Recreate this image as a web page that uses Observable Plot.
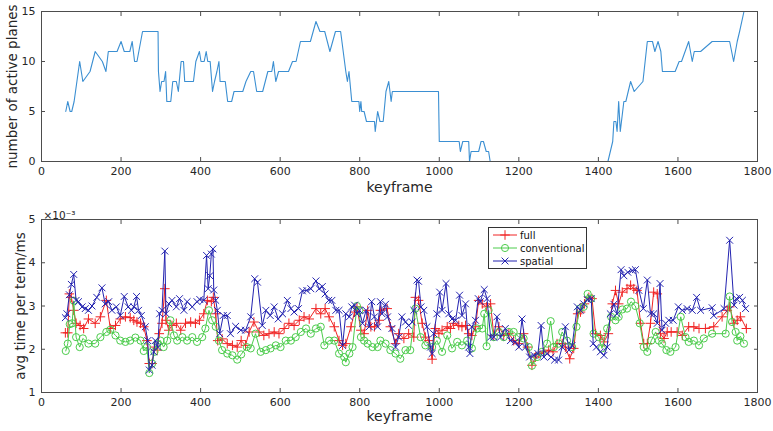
<!DOCTYPE html>
<html><head><meta charset="utf-8">
<script src="https://cdn.jsdelivr.net/npm/d3@7"></script>
<script src="https://cdn.jsdelivr.net/npm/@observablehq/plot@0.6"></script>
<style>
body{margin:0;background:#fff;}
#wrap{position:relative;width:773px;height:431px;font-family:"DejaVu Sans",sans-serif;background:#fff;}
#top,#bot{position:absolute;left:0;}
#top{top:0;} #bot{top:200px;}
#legend{position:absolute;left:488px;top:227px;width:97px;height:40px;border:1px solid #333;background:#fff;}
</style></head><body>
<div id="wrap"><div id="top"></div><div id="bot"></div><div id="legend"></div></div>
<script>
// ---- top panel: number of active planes ----
const planeKf = [61,66,72,76,82,96,104,122,135,153,162,168,190,200,208,222,228,234,240,254,293,294,298,302,308,312,315,325,330,339,344,351,357,360,382,388,397,401,409,414,418,424,430,435,441,446,449,462,468,478,484,506,514,526,533,541,556,569,579,583,589,596,621,631,640,651,676,690,700,712,725,739,752,765,769,773,780,798,800,803,805,811,817,837,839,845,851,859,866,873,879,882,998,1000,1050,1053,1059,1074,1076,1080,1099,1105,1111,1118,1124,1128,1424,1436,1439,1444,1447,1451,1455,1464,1469,1481,1490,1512,1523,1536,1542,1550,1557,1561,1593,1603,1609,1627,1636,1641,1657,1686,1730,1740,1749,1755,1766];
const planeVal = [5,6,5,5,6,10,8,9,11,10,9,11,11,12,11,11,12,10,10,13,13,9,7,8,8,9,6,6,8,8,7,10,10,8,8,10,11,10,10,11,10,10,7,8,9,10,8,8,6,6,7,7,8,9,9,7,7,9,9,10,8,9,9,10,10,12,12,14,13,13,11,13,13,9,8,9,6,6,5,6,5,5,4,4,3,5,4,4,7,8,6,7,7,2,2,1,2,2,0,1,1,2,2,1,1,0,0,2,4,4,3,6,3,6,6,8,7,8,12,12,11,12,11,9,9,10,10,12,10,11,11,12,12,10,12,13,15];
const xTicks = [0,200,400,600,800,1000,1200,1400,1600,1800];
const planeTicks = [0,5,10,15];

// ---- bottom panel: avg time per term (x 10^-3 ms) ----
const seriesNames = ["full","conventional","spatial"];
const seriesColors = ["#f02424","#4ccc4c","#2323b0"];
const seriesSymbols = ["plus","circle","times"];

const fullKf = [60,66,70,75,81,87,97,106,118,135,148,163,173,186,198,211,223,232,240,249,257,265,271,278,284,291,296,303,310,313,320,328,339,350,362,375,387,397,408,417,427,432,438,443,454,467,480,492,502,513,522,534,547,559,572,585,597,610,622,635,648,660,673,690,702,713,723,736,748,757,765,778,787,793,803,811,820,828,837,849,852,869,877,890,898,911,923,936,940,948,957,965,974,982,990,999,1007,1020,1028,1036,1049,1057,1066,1074,1082,1091,1099,1108,1119,1129,1137,1150,1162,1175,1187,1200,1212,1222,1233,1242,1250,1263,1275,1286,1296,1309,1317,1328,1338,1348,1355,1365,1376,1384,1393,1405,1414,1425,1435,1443,1451,1460,1472,1481,1489,1497,1506,1514,1523,1531,1539,1548,1556,1565,1573,1583,1598,1611,1627,1640,1653,1669,1690,1711,1724,1730,1741,1749,1757,1772];
const fullVal = [2.38,2.38,3.28,3.2,2.9,2.6,2.55,2.48,2.7,2.6,2.75,3.13,2.48,2.55,2.7,2.75,2.73,2.67,2.63,2.6,2.52,2.2,1.67,1.67,2.05,1.98,2.36,2.6,3.4,2.67,2.44,2.55,2.6,2.44,2.6,2.63,2.6,2.67,2.82,3.13,3.1,3.2,2.82,2.2,2.24,2.13,2.09,2.05,2.2,2.09,2.4,2.63,2.4,2.32,2.36,2.4,2.36,2.48,2.6,2.55,2.67,2.75,2.7,2.94,2.82,2.94,2.75,2.52,2.2,2.09,2.13,2.52,2.86,2.98,2.44,2.36,2.9,2.52,2.52,2.67,2.9,2.94,2.52,2.13,2.36,2.25,2.36,2.28,3.2,3.13,2.6,2.28,2.2,1.77,2.48,2.36,2.44,2.52,2.48,2.6,2.55,2.52,2.55,2.36,2.32,2.52,3.13,3.05,2.98,3.05,2.32,2.52,2.32,2.36,2.2,2.13,2.36,2.05,1.63,1.82,1.9,1.94,1.98,1.94,2.13,2.13,2.05,1.78,2.02,2.82,2.86,3.05,3.2,3.17,2.36,2.32,2.17,2.36,3.05,3.36,3.05,3.32,3.4,3.48,3.4,3.36,2.6,2.13,2.13,2.6,3.32,3.28,2.36,2.25,2.4,2.4,2.4,2.32,2.52,2.52,2.48,2.48,2.52,2.75,2.9,2.98,2.6,2.67,2.75,2.48];

const convKf = [61,66,71,77,81,87,96,104,118,135,148,163,173,186,198,211,223,236,249,257,265,271,278,284,291,299,307,316,324,333,341,354,366,379,391,404,412,421,429,438,446,454,467,480,492,502,516,526,538,551,564,576,589,601,614,627,639,652,665,677,690,702,711,723,736,748,761,765,774,782,793,799,803,811,820,832,845,852,865,877,890,902,915,927,940,953,965,982,994,1007,1020,1032,1045,1057,1070,1082,1095,1108,1113,1119,1124,1137,1150,1162,1175,1187,1200,1212,1225,1233,1246,1258,1271,1280,1288,1300,1309,1321,1334,1345,1353,1363,1373,1382,1388,1401,1409,1422,1432,1443,1451,1460,1472,1482,1493,1504,1514,1523,1533,1544,1552,1560,1571,1581,1594,1607,1619,1627,1640,1653,1665,1686,1720,1730,1736,1745,1749,1757,1766];
const convVal = [1.96,2.13,2.58,2.6,3.12,2.28,2.05,2.25,2.13,2.13,2.28,2.4,2.45,2.32,2.2,2.17,2.2,2.27,2.2,1.96,2.05,1.45,1.67,1.94,2.13,2.2,2.05,2.2,2.67,2.32,2.2,2.28,2.2,2.28,2.17,2.28,2.48,2.9,2.67,2.52,2.2,1.98,1.9,1.86,1.76,1.88,2.05,2.02,2.36,1.94,1.98,2.02,2.09,2.05,2.2,2.2,2.28,2.4,2.48,2.36,2.48,2.52,2.09,2.2,2.2,1.9,1.82,1.7,1.9,2.05,3.0,2.9,2.28,2.2,2.13,2.05,2.05,2.2,2.13,1.98,1.9,1.78,1.98,1.98,2.94,2.28,2.09,2.05,2.2,1.94,2.32,2.02,2.17,2.09,2.2,2.02,2.48,2.48,2.82,2.07,2.9,2.28,2.4,2.28,2.4,2.4,2.28,2.25,2.05,1.62,1.82,1.94,2.13,2.65,2.05,2.13,2.4,2.2,2.05,2.52,2.94,2.98,3.28,3.17,2.36,2.28,2.02,2.48,2.75,2.67,2.75,2.92,2.94,3.1,3.0,2.6,2.05,1.94,2.2,2.4,2.2,2.13,1.98,1.94,2.05,2.75,2.28,2.17,2.2,2.09,2.25,2.36,2.36,3.22,2.63,2.4,2.2,2.3,2.13];

const spatKf = [60,64,70,75,81,87,93,102,110,118,127,139,152,160,169,177,188,198,208,218,226,232,239,244,251,261,267,271,278,282,286,292,297,303,310,313,320,328,339,347,358,366,379,391,398,408,415,419,423,427,431,433,438,442,448,457,467,475,488,501,513,526,536,543,555,564,575,585,595,606,618,627,635,646,656,667,677,690,698,706,713,722,730,740,748,757,765,774,780,787,793,799,807,816,824,830,837,845,852,856,865,870,881,890,898,906,915,923,932,936,944,948,954,961,969,978,982,986,994,1001,1007,1017,1024,1032,1041,1051,1057,1066,1074,1077,1082,1091,1098,1103,1113,1120,1129,1137,1145,1154,1166,1179,1191,1200,1208,1217,1227,1238,1248,1256,1263,1271,1281,1290,1300,1309,1317,1326,1334,1347,1355,1363,1372,1382,1387,1395,1405,1414,1422,1430,1439,1447,1457,1464,1474,1485,1493,1502,1513,1523,1531,1539,1548,1555,1560,1569,1577,1588,1601,1611,1623,1636,1647,1657,1686,1690,1716,1730,1741,1747,1755,1762,1770];
const spatVal = [2.73,2.82,3.26,3.5,3.73,3.13,3.1,2.98,2.94,2.9,3.0,3.2,3.42,3.05,3.1,2.9,2.98,2.78,3.22,2.98,2.9,2.98,3.22,2.9,2.78,2.52,2.2,1.52,1.63,1.94,2.2,2.05,2.82,2.9,4.27,2.82,3.05,3.13,2.98,3.17,2.9,3.1,2.98,3.1,3.15,3.13,4.17,3.4,3.7,4.2,4.32,3.37,3.13,2.9,2.36,2.78,2.78,2.36,2.53,2.44,2.44,2.75,3.63,3.55,2.55,2.9,2.78,2.98,2.7,2.82,3.13,2.94,2.86,2.94,3.35,3.36,3.4,3.58,3.4,3.45,3.28,3.13,3.13,2.9,2.9,2.09,2.82,2.75,2.98,3.02,2.82,2.9,2.6,2.9,2.52,3.1,2.75,2.52,3.1,2.82,3.04,2.75,2.48,2.05,2.28,2.75,2.63,2.55,2.63,2.9,3.6,3.57,2.98,2.9,2.52,2.05,1.9,2.36,2.82,3.32,2.9,3.52,2.82,2.7,2.67,3.25,2.78,3.05,2.05,1.9,2.52,2.67,3.17,3.1,3.38,3.17,2.28,2.28,2.75,2.28,2.48,2.2,2.17,2.05,2.7,2.05,1.82,1.86,1.9,2.55,1.82,1.9,1.82,1.75,1.75,2.05,2.52,1.98,2.09,2.98,2.9,3.05,3.15,3.17,2.13,2.05,1.94,1.86,2.05,2.82,3.04,2.82,3.84,3.7,3.78,3.82,3.84,3.36,2.94,3.6,2.82,2.82,2.6,3.52,2.44,2.6,2.67,2.67,2.98,2.9,2.94,2.9,3.2,2.9,2.96,2.78,2.94,4.52,3.02,3.17,3.2,3.13,2.94];
const timeTicks = [1,2,3,4,5];

const zip = (ks, vs, name) => ks.map((k, i) => ({k, v: vs[i], name}));
const planes = zip(planeKf, planeVal, "planes");
const series = [zip(fullKf, fullVal, "full"), zip(convKf, convVal, "conventional"), zip(spatKf, spatVal, "spatial")];

const font = {fontFamily: "DejaVu Sans, sans-serif", fontSize: "11px", color: "#262626", background: "white", overflow: "visible"};
const frameStroke = "#4d4d4d";
const plain = d3.format("d");

function boxAxes(yTicks) {
  return [
    Plot.frame({stroke: frameStroke, strokeWidth: 1}),
    Plot.axisX(xTicks, {anchor: "bottom", tickSize: -4, tickPadding: 10, tickFormat: plain, label: null, stroke: frameStroke}),
    Plot.axisX(xTicks, {anchor: "top", tickSize: -4, tickFormat: () => "", label: null, stroke: frameStroke}),
    Plot.axisY(yTicks, {anchor: "left", tickSize: -4, tickPadding: 10, tickFormat: plain, label: null, stroke: frameStroke}),
    Plot.axisY(yTicks, {anchor: "right", tickSize: -4, tickFormat: () => "", label: null, stroke: frameStroke})
  ];
}

const topChart = Plot.plot({
  width: 773, height: 200, marginLeft: 41, marginRight: 16, marginTop: 11, marginBottom: 39,
  style: font,
  x: {domain: [0, 1800]},
  y: {domain: [0, 15]},
  marks: [
    Plot.line(planes, {x: "k", y: "v", stroke: "#3b8fd2", strokeWidth: 1.1}),
    ...boxAxes(planeTicks),
    Plot.text(["keyframe"], {text: d => d, frameAnchor: "bottom", dy: 30, fontSize: 14, fill: "#262626"}),
    Plot.text(["number of active planes"], {text: d => d, frameAnchor: "left", textAnchor: "middle", dx: -29, rotate: -90, fontSize: 13.5, fill: "#262626"})
  ]
});
document.getElementById("top").appendChild(topChart);

const botChart = Plot.plot({
  width: 773, height: 231, marginLeft: 41, marginRight: 16, marginTop: 19, marginBottom: 39,
  style: font,
  x: {domain: [0, 1800]},
  y: {domain: [1, 5]},
  marks: [
    ...series.flatMap((s, i) => [
      Plot.line(s, {x: "k", y: "v", stroke: seriesColors[i], strokeWidth: 1}),
      Plot.dot(s, {x: "k", y: "v", stroke: seriesColors[i], symbol: () => seriesSymbols[i], r: i === 1 ? 3.6 : 3.2, strokeWidth: 1})
    ]),
    ...boxAxes(timeTicks),
    Plot.text(["keyframe"], {text: d => d, frameAnchor: "bottom", dy: 28, fontSize: 14, fill: "#262626"}),
    Plot.text(["avg time per term/ms"], {text: d => d, frameAnchor: "left", textAnchor: "middle", dx: -21, rotate: -90, fontSize: 13.5, fill: "#262626"}),
    Plot.text(["\u00d710\u207b\u00b3"], {text: d => d, frameAnchor: "top-left", textAnchor: "start", dx: 2, dy: -8, fontSize: 10.5, fill: "#262626"})
  ]
});
document.getElementById("bot").appendChild(botChart);

// legend
const lg = d3.select("#legend").append("svg").attr("width", 97).attr("height", 40)
  .style("font-family", "DejaVu Sans, sans-serif").style("font-size", "10px");
seriesNames.forEach((name, i) => {
  const y = 7 + i * 13;
  lg.append("line").attr("x1", 4).attr("x2", 28).attr("y1", y).attr("y2", y).attr("stroke", seriesColors[i]);
  const sym = {plus: d3.symbolPlus, circle: d3.symbolCircle, times: d3.symbolTimes}[seriesSymbols[i]];
  lg.append("path").attr("d", d3.symbol(sym, i === 1 ? 40 : 32)()).attr("transform", `translate(16,${y})`)
    .attr("fill", "none").attr("stroke", seriesColors[i]);
  lg.append("text").attr("x", 31).attr("y", y).attr("dy", "0.35em").attr("fill", "#111").text(name);
});
</script>
</body></html>
